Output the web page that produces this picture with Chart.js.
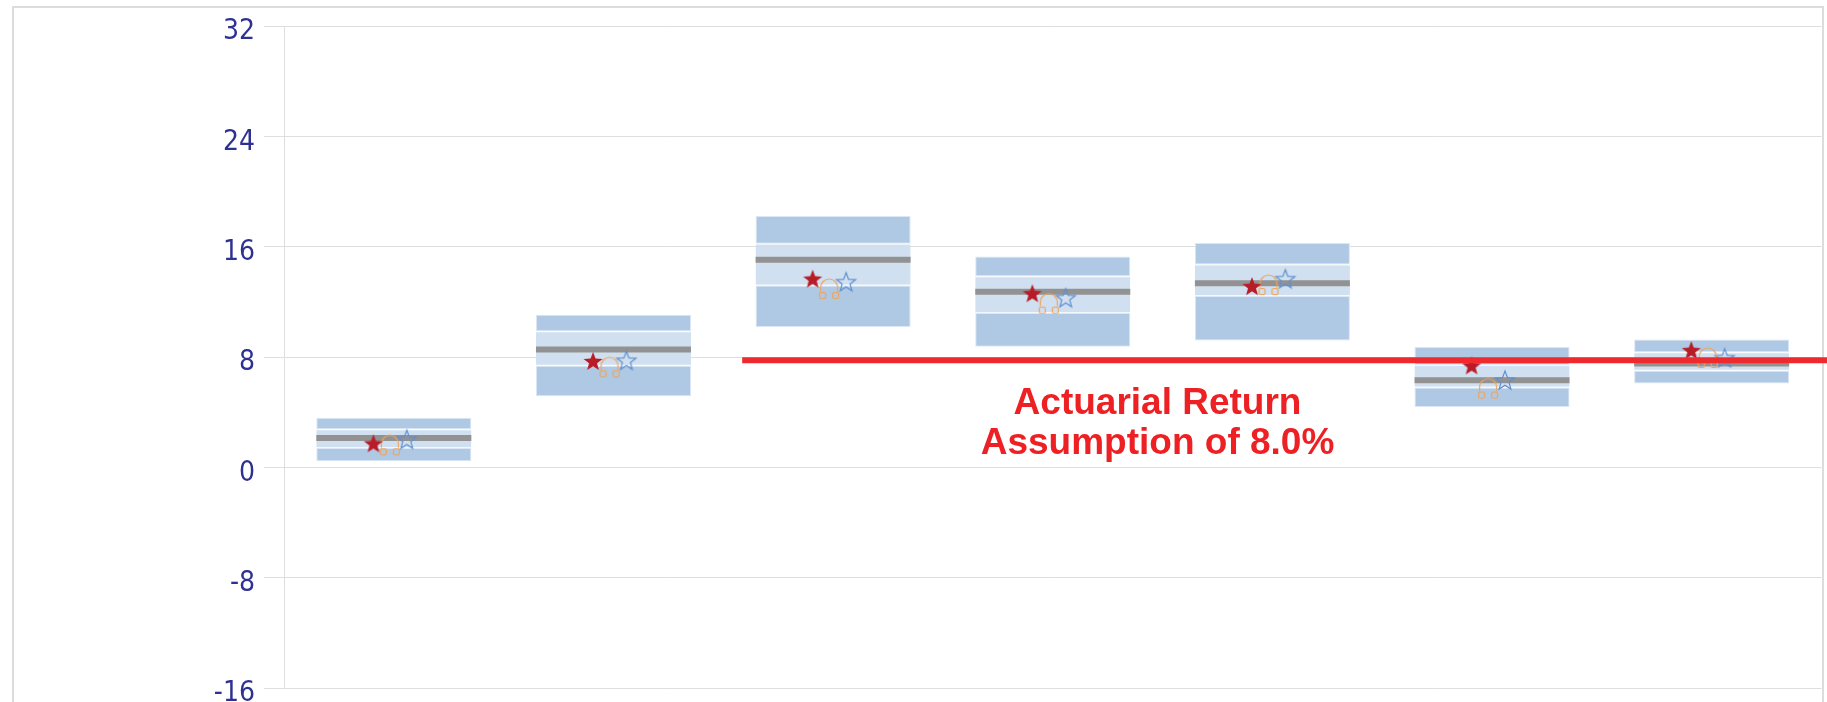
<!DOCTYPE html>
<html>
<head>
<meta charset="utf-8">
<title>Returns</title>
<script src="https://cdn.jsdelivr.net/npm/chart.js@4"></script>
<style>
  html, body { margin: 0; padding: 0; background: #fff; overflow: hidden; }
  #frame { position: absolute; left: 12px; top: 6px; width: 1808px; height: 760px; border: 2px solid #dcdcdc; }
  #chart { position: absolute; left: 0; top: 0; }
</style>
</head>
<body>
<div id="frame"></div>
<canvas id="chart" width="1827" height="702"></canvas>
<script>
const categories = ["1", "2", "3", "4", "5", "6", "7"];
const yTicks = [32, 24, 16, 8, 0, -8, -16];

// box bands
const lowValues = [0.44, 5.15, 10.17, 8.75, 9.19, 4.37, 6.07];
const q1Values = [1.40, 7.37, 13.18, 11.19, 12.42, 5.78, 7.01];
const medianValues = [2.12, 8.54, 15.06, 12.74, 13.34, 6.31, 7.52];
const q3Values = [2.76, 9.86, 16.22, 13.85, 14.70, 7.42, 8.34];
const highValues = [3.59, 11.07, 18.22, 15.28, 16.27, 8.72, 9.26];

// markers
const redStarValues = [1.67, 7.64, 13.61, 12.55, 13.07, 7.32, 8.43];
const headphoneValues = [1.60, 7.25, 12.93, 11.87, 13.22, 5.71, 7.93];
const blueStarValues = [1.96, 7.69, 13.39, 12.23, 13.61, 6.26, 7.88];

const assumptionX = [2.586, 7.54];
const assumptionY = [7.76, 7.76];
const assumptionText = ["Actuarial Return", "Assumption of 8.0%"];

function starCanvas(size, outer, fill, stroke) {
  const c = document.createElement("canvas");
  c.width = c.height = size;
  const g = c.getContext("2d");
  g.beginPath();
  for (let i = 0; i < 10; i++) {
    const r = i % 2 ? outer * 0.42 : outer;
    const a = -Math.PI / 2 + i * Math.PI / 5;
    g.lineTo(size / 2 + r * Math.cos(a), size / 2 + r * Math.sin(a));
  }
  g.closePath();
  if (fill) { g.fillStyle = fill; g.fill(); }
  if (stroke) { g.strokeStyle = stroke; g.lineWidth = 1.2; g.stroke(); }
  return c;
}

function headphoneCanvas() {
  const c = document.createElement("canvas");
  c.width = 24; c.height = 24;
  const g = c.getContext("2d");
  g.strokeStyle = "#eea35c";
  g.lineWidth = 1.2;
  g.beginPath();
  g.moveTo(3.5, 14.5);
  g.lineTo(3.5, 10.5);
  g.arc(12, 10.5, 8.5, Math.PI, 0);
  g.lineTo(20.5, 14.5);
  g.stroke();
  g.beginPath();
  g.roundRect(2.5, 15.5, 6, 6, 1.5);
  g.roundRect(15.5, 15.5, 6, 6, 1.5);
  g.stroke();
  return c;
}

function band(from, to) {
  return from.map((v, i) => [v, to[i]]);
}
function shifted(values, offset) {
  return values.map((v, i) => ({ x: i + 1 + offset, y: v }));
}

const darkBand = {
  type: "bar", backgroundColor: "#afc9e5", borderColor: "#dbe7f4", borderWidth: 1,
  borderSkipped: false, grouped: false, barPercentage: 0.706, categoryPercentage: 1
};
const lightBand = {
  type: "bar", backgroundColor: "#d0e0f0", borderColor: "#f4f8fc",
  borderWidth: { top: 1, bottom: 1, left: 0, right: 0 },
  borderSkipped: false, grouped: false, barPercentage: 0.706, categoryPercentage: 1
};
const marker = { type: "scatter", xAxisID: "xm", showLine: false, pointRadius: 6 };

const assumptionLabel = {
  id: "assumptionLabel",
  afterDatasetsDraw(chart) {
    const ctx = chart.ctx;
    const x = chart.scales.xm.getPixelForValue(4.477);
    const y = chart.scales.y;
    ctx.save();
    ctx.font = "bold 37px 'Liberation Sans'";
    ctx.fillStyle = "#ed2024";
    ctx.textAlign = "center";
    ctx.textBaseline = "alphabetic";
    ctx.fillText(assumptionText[0], x, y.getPixelForValue(3.86));
    ctx.fillText(assumptionText[1], x, y.getPixelForValue(0.96));
    ctx.restore();
  }
};

new Chart(document.getElementById("chart"), {
  type: "bar",
  plugins: [assumptionLabel],
  data: {
    labels: categories,
    datasets: [
      { type: "line", xAxisID: "xm", data: assumptionX.map((x, i) => ({ x: x, y: assumptionY[i] })),
        borderColor: "#ee2a2e", borderWidth: 6, pointRadius: 0, clip: false, order: 1 },
      Object.assign({}, marker, { data: shifted(redStarValues, -0.093), pointStyle: starCanvas(24, 10, "#b81c26"), order: 2 }),
      Object.assign({}, marker, { data: shifted(headphoneValues, -0.018), pointStyle: headphoneCanvas(), order: 3 }),
      Object.assign({}, marker, { data: shifted(blueStarValues, 0.059), pointStyle: starCanvas(24, 10, null, "#5f8fd0"), order: 4 }),
      { type: "line", data: medianValues, showLine: false, pointStyle: "line", pointRadius: 77.5,
        pointBorderColor: "#929292", pointBorderWidth: 6, order: 5 },
      Object.assign({}, lightBand, { data: band(q1Values, q3Values), order: 6 }),
      Object.assign({}, darkBand, { data: band(lowValues, q1Values), order: 7 }),
      Object.assign({}, darkBand, { data: band(q3Values, highValues), order: 8 })
    ]
  },
  options: {
    responsive: false,
    animation: false,
    layout: { autoPadding: false, padding: { top: 26, bottom: 14, right: 5.5, left: 0 } },
    plugins: { legend: { display: false }, tooltip: { enabled: false } },
    scales: {
      x: { display: false },
      xm: { type: "linear", display: false, offset: false, min: 0.5, max: 7.5 },
      y: {
        min: -16,
        max: 32,
        afterBuildTicks(scale) { scale.ticks = yTicks.map(v => ({ value: v })); },
        afterFit(scale) { scale.width = 284; scale.paddingTop = 0; scale.paddingBottom = 0; },
        grid: { color: "#dedede", lineWidth: 1, tickLength: 20, tickColor: "#dedede" },
        border: { color: "#dedede", width: 1 },
        ticks: {
          color: "#2e3192",
          padding: 9,
          labelOffset: 6,
          font: { family: "'DejaVu Sans Condensed', 'DejaVu Sans'", size: 28 }
        }
      }
    }
  }
});
</script>
</body>
</html>
